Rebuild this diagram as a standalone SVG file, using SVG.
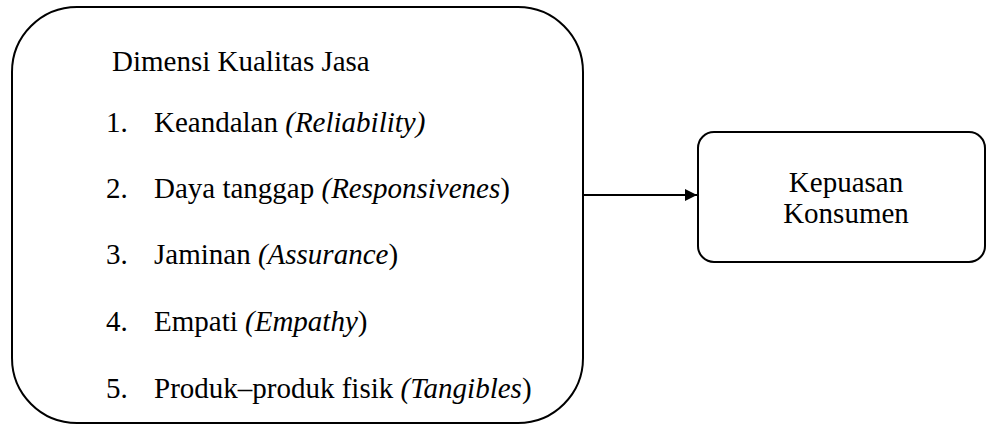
<svg xmlns="http://www.w3.org/2000/svg" width="987" height="425" viewBox="0 0 987 425">
<defs>
<style>
.t{font-size:29px;fill:#000}
.i{font-style:italic}
.box{fill:#fff;stroke:#000;stroke-width:2}
.conn{stroke:#000;stroke-width:2;fill:none}
</style>
<marker id="ah" viewBox="0 0 10 10" refX="10" refY="5" markerWidth="8" markerHeight="6" markerUnits="strokeWidth" orient="auto">
<path d="M0,0 L10,5 L0,10 z" fill="#000"/>
</marker>
</defs>
<g id="dimensi">
<rect class="box" x="12" y="7" width="571" height="416" rx="65" ry="65"/>
<text class="t" x="112" y="71" font-family="Liberation Serif">Dimensi Kualitas Jasa</text>
<text class="t" x="106" y="132" font-family="Liberation Serif">1.</text>
<text class="t" x="154" y="132" font-family="Liberation Serif">Keandalan <tspan class="i">(Reliability)</tspan></text>
<text class="t" x="106" y="198" font-family="Liberation Serif">2.</text>
<text class="t" x="154" y="198" font-family="Liberation Serif">Daya tanggap <tspan class="i">(Responsivenes</tspan>)</text>
<text class="t" x="106" y="264" font-family="Liberation Serif">3.</text>
<text class="t" x="154" y="264" font-family="Liberation Serif">Jaminan <tspan class="i">(Assurance</tspan>)</text>
<text class="t" x="106" y="331" font-family="Liberation Serif">4.</text>
<text class="t" x="154" y="331" font-family="Liberation Serif">Empati <tspan class="i">(Empathy</tspan>)</text>
<text class="t" x="106" y="398" font-family="Liberation Serif">5.</text>
<text class="t" x="154" y="398" font-family="Liberation Serif">Produk–produk fisik <tspan class="i">(Tangibles</tspan>)</text>
</g>
<g id="kepuasan">
<rect class="box" x="698" y="132" width="287" height="130" rx="16" ry="16"/>
<text class="t" x="846" y="192" text-anchor="middle" font-family="Liberation Serif">Kepuasan</text>
<text class="t" x="846" y="223" text-anchor="middle" font-family="Liberation Serif">Konsumen</text>
</g>
<g id="connectors">
<line class="conn" x1="583" y1="195" x2="697" y2="195" marker-end="url(#ah)"/>
</g>
</svg>
